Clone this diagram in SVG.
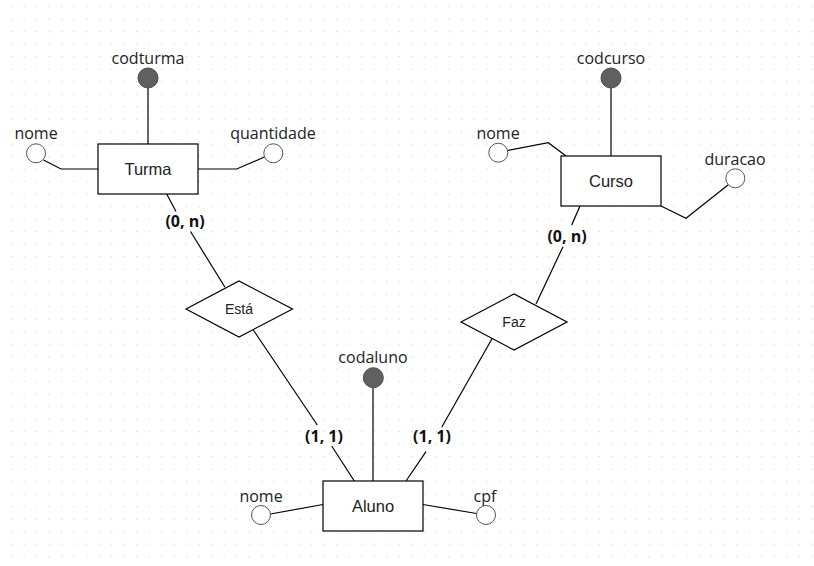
<svg xmlns="http://www.w3.org/2000/svg" width="814" height="566" viewBox="0 0 814 566">
<defs>
<pattern id="grid" x="11.2" y="6.2" width="12.5" height="12.5" patternUnits="userSpaceOnUse">
<rect x="0" y="0" width="1" height="1" fill="#c8c8c8"/>
</pattern>
<style>
.ent{fill:#fff;stroke:#000;stroke-width:1.2}
.rel{fill:#fff;stroke:#000;stroke-width:1.2}
.attr{fill:#fff;stroke:#555;stroke-width:1}
.key{fill:#606060;stroke:#4a4a4a;stroke-width:1}
.ln{fill:none;stroke:#000;stroke-width:1.2}
.et{font-family:"Liberation Sans",Arial,sans-serif;font-size:16.5px;fill:#222;text-anchor:middle;dominant-baseline:central}
.rt{font-family:"Liberation Sans",Arial,sans-serif;font-size:14px;fill:#222;text-anchor:middle;dominant-baseline:central}
.at{font-family:"Open Sans",sans-serif;font-size:16px;fill:#222;text-anchor:middle}
.ct{font-family:"Open Sans",sans-serif;font-size:16px;font-weight:bold;fill:#111;text-anchor:middle}
</style>
</defs>
<rect width="814" height="566" fill="#fff"/>
<rect width="814" height="566" fill="url(#grid)"/>

<g id="connectors">
<line class="ln" x1="148" y1="88" x2="148" y2="144"/>
<polyline class="ln" points="43.5,160 61,169 98,169"/>
<polyline class="ln" points="198,169 236.7,169 264.5,157"/>
<line class="ln" x1="611" y1="88" x2="611" y2="156"/>
<polyline class="ln" points="507.5,150.5 548.3,142.7 566,156"/>
<polyline class="ln" points="661,206 686,218.3 728,185"/>
<line class="ln" x1="373" y1="388" x2="373" y2="481"/>
<line class="ln" x1="270.5" y1="514" x2="323" y2="504.5"/>
<line class="ln" x1="423" y1="504.5" x2="476.5" y2="513.5"/>
<line class="ln" x1="166.7" y1="194" x2="176" y2="211.5"/>
<line class="ln" x1="190.5" y1="231.5" x2="225" y2="287.3"/>
<line class="ln" x1="580" y1="206" x2="571.7" y2="225"/>
<line class="ln" x1="563" y1="246.7" x2="536" y2="304"/>
<line class="ln" x1="253.3" y1="330" x2="317.3" y2="425"/>
<line class="ln" x1="331.7" y1="446" x2="354.3" y2="481"/>
<line class="ln" x1="492.3" y1="338.3" x2="441.7" y2="427.3"/>
<line class="ln" x1="426" y1="451.7" x2="406" y2="481"/>
<text class="ct" x="185" y="227">(0, n)</text>
<text class="ct" x="567" y="242">(0, n)</text>
<text class="ct" x="324" y="442">(1, 1)</text>
<text class="ct" x="432" y="442">(1, 1)</text>
</g>

<g id="turma">
<rect class="ent" x="98" y="144" width="100" height="50"/>
<text class="et" x="148" y="169">Turma</text>
</g>
<g id="turma-codturma">
<circle class="key" cx="148" cy="78" r="10"/>
<text class="at" x="148" y="64">codturma</text>
</g>
<g id="turma-nome">
<circle class="attr" cx="36" cy="153.3" r="9.5"/>
<text class="at" x="36" y="139">nome</text>
</g>
<g id="turma-quantidade">
<circle class="attr" cx="273.3" cy="153.3" r="9.5"/>
<text class="at" x="273" y="139">quantidade</text>
</g>

<g id="curso">
<rect class="ent" x="561" y="156" width="100" height="50"/>
<text class="et" x="611" y="181">Curso</text>
</g>
<g id="curso-codcurso">
<circle class="key" cx="611" cy="78" r="10"/>
<text class="at" x="611" y="64">codcurso</text>
</g>
<g id="curso-nome">
<circle class="attr" cx="498.3" cy="152.7" r="9.5"/>
<text class="at" x="498" y="139">nome</text>
</g>
<g id="curso-duracao">
<circle class="attr" cx="735.3" cy="178.3" r="9.5"/>
<text class="at" x="735" y="165">duracao</text>
</g>

<g id="esta">
<polygon class="rel" points="186,309 239,281 292.5,309 239,337"/>
<text class="rt" x="239" y="309">Está</text>
</g>
<g id="faz">
<polygon class="rel" points="461,322 514,294 567,322 514,350"/>
<text class="rt" x="514" y="322">Faz</text>
</g>

<g id="aluno">
<rect class="ent" x="323" y="481" width="100" height="50"/>
<text class="et" x="373" y="506">Aluno</text>
</g>
<g id="aluno-codaluno">
<circle class="key" cx="373.3" cy="377.7" r="10"/>
<text class="at" x="373" y="363">codaluno</text>
</g>
<g id="aluno-nome">
<circle class="attr" cx="261" cy="515" r="9.5"/>
<text class="at" x="261" y="502">nome</text>
</g>
<g id="aluno-cpf">
<circle class="attr" cx="486" cy="515" r="9.5"/>
<text class="at" x="485" y="502">cpf</text>
</g>
</svg>
